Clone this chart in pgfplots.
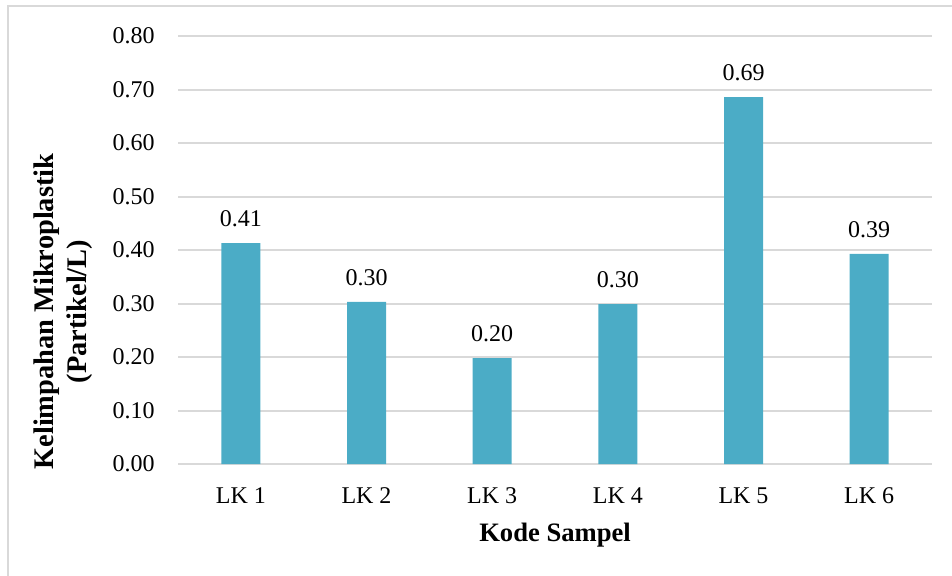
\documentclass[border=0pt]{standalone}
\usepackage{pgfplots}
\pgfplotsset{compat=1.18}
\usepackage{fontspec}
\setmainfont{Liberation Serif}
\definecolor{barcol}{HTML}{4BACC6}
\definecolor{gridcol}{HTML}{D9D9D9}
\begin{document}
\begin{tikzpicture}
\useasboundingbox (0pt,0pt) rectangle (476pt,-288pt);
% chart frame
\draw[gridcol, line width=1pt] (4pt,-300pt) -- (4pt,-3pt) -- (490pt,-3pt);
\begin{axis}[
  at={(89pt,-232pt)}, anchor=south west,
  scale only axis, width=377pt, height=214pt,
  xmin=-0.5, xmax=5.5, ymin=0, ymax=0.8,
  xtick={0,1,2,3,4,5},
  xticklabels={LK 1,LK 2,LK 3,LK 4,LK 5,LK 6},
  ytick={0,0.1,0.2,0.3,0.4,0.5,0.6,0.7,0.8},
  /pgf/number format/assume math mode=true,
  yticklabel style={/pgf/number format/fixed, /pgf/number format/fixed zerofill,
    /pgf/number format/precision=2},
  ticklabel style={font=\fontsize{12}{14}\selectfont, text=black, inner sep=0pt},
  yticklabel style={anchor=east, xshift=-11.5pt},
  xticklabel style={anchor=north, yshift=-11.6pt},
  major tick length=0pt,
  axis line style={draw=none},
  ymajorgrids, grid style={gridcol, line width=1pt},
  ybar, bar width=19.5pt,
  clip=false,
  nodes near coords={\pgfmathprintnumber[fixed,fixed zerofill,precision=2]{\pgfplotspointmeta}},
  every node near coord/.append style={anchor=base, yshift=8.3pt, inner sep=0pt,
    font=\fontsize{12}{14}\selectfont, text=black},
]
\addplot[fill=barcol, draw=none] coordinates {
  (0,0.413) (1,0.303) (2,0.198) (3,0.299) (4,0.686) (5,0.393)
};
\end{axis}
\node[rotate=90, align=center, font=\bfseries\fontsize{14.2}{16.5}\selectfont]
  at (31.5pt,-155.8pt) {Kelimpahan Mikroplastik\\(Partikel/L)};
\node[anchor=base, font=\bfseries\fontsize{13.3}{15}\selectfont]
  at (277.5pt,-270.8pt) {Kode Sampel};
\end{tikzpicture}
\end{document}
